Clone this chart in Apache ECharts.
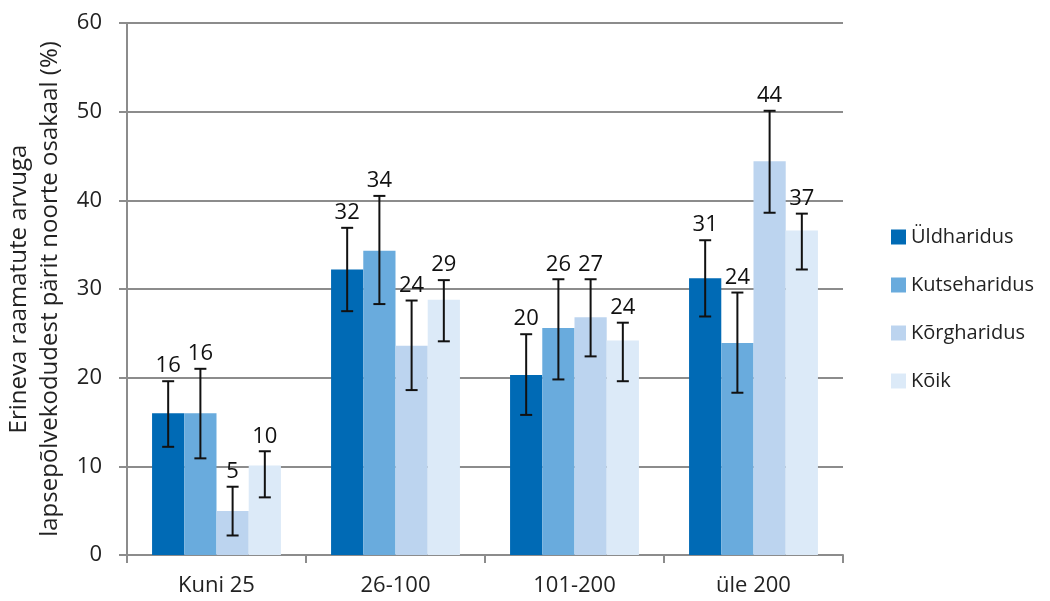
<!DOCTYPE html>
<html lang="et">
<head>
    <meta charset="utf-8">
    <title>Raamatute arv lapsepõlvekodus</title>
    <script src="https://cdn.jsdelivr.net/npm/echarts@6/dist/echarts.min.js"></script>
</head>
<body style="margin:0;background:#fff;">
    <div id="main" style="width:1050px;height:601px;"></div>
    <script type="text/javascript">
        // andmed
        var categories = ['Kuni 25', '26-100', '101-200', 'üle 200'];
        var seriesNames = ['Üldharidus', 'Kutseharidus', 'Kõrgharidus', 'Kõik'];
        var colors = ['#006ab5', '#69abdd', '#bcd4ef', '#dceaf8'];
        var yTicks = [0, 10, 20, 30, 40, 50, 60];

        var yldValues   = [16.0, 32.2, 20.3, 31.2];
        var kutseValues = [16.0, 34.3, 25.6, 23.9];
        var korgValues  = [4.95, 23.6, 26.8, 44.4];
        var koikValues  = [10.1, 28.8, 24.2, 36.6];

        // usaldusvahemikud [alumine, ülemine]
        var yldErr   = [[12.2, 19.6], [27.5, 36.9], [15.8, 24.9], [26.9, 35.5]];
        var kutseErr = [[10.9, 21.0], [28.3, 40.5], [19.8, 31.1], [18.3, 29.6]];
        var korgErr  = [[2.2, 7.7], [18.6, 28.7], [22.4, 31.1], [38.6, 50.1]];
        var koikErr  = [[6.5, 11.7], [24.1, 31.0], [19.6, 26.2], [32.2, 38.5]];

        var allValues = [yldValues, kutseValues, korgValues, koikValues];
        var allErr = [yldErr, kutseErr, korgErr, koikErr];

        var catGap = 0.28;
        var fontFam = '"Open Sans", sans-serif';

        var myChart = echarts.init(document.getElementById('main'));

        var series = [];
        allValues.forEach(function (vals, s) {
            series.push({
                name: seriesNames[s],
                type: 'bar',
                data: vals,
                barGap: '0%',
                barCategoryGap: (catGap * 100) + '%',
                itemStyle: { color: colors[s] },
                z: 2
            });
        });

        // vearibad + sildid
        allErr.forEach(function (errs, s) {
            var data = errs.map(function (e, i) {
                return [i, e[0], e[1], Math.round(allValues[s][i])];
            });
            series.push({
                name: 'err' + s,
                type: 'custom',
                z: 5,
                data: data,
                encode: { x: 0, y: [1, 2] },
                renderItem: function (params, api) {
                    var i = api.value(0);
                    var lo = api.coord([i, api.value(1)]);
                    var hi = api.coord([i, api.value(2)]);
                    var cw = api.size([1, 0])[0];
                    var bw = cw * (1 - catGap) / 4;
                    var x = lo[0] - cw * (1 - catGap) / 2 + bw * (s + 0.5);
                    var hw = 6;
                    var st = { stroke: '#111', lineWidth: 2 };
                    return {
                        type: 'group',
                        children: [
                            { type: 'line', shape: { x1: x, y1: hi[1], x2: x, y2: lo[1] }, style: st },
                            { type: 'line', shape: { x1: x - hw, y1: hi[1], x2: x + hw, y2: hi[1] }, style: st },
                            { type: 'line', shape: { x1: x - hw, y1: lo[1], x2: x + hw, y2: lo[1] }, style: st },
                            {
                                type: 'text',
                                style: {
                                    x: x, y: hi[1] - 4,
                                    text: String(api.value(3)),
                                    fill: '#111',
                                    font: '22px ' + fontFam,
                                    textAlign: 'center',
                                    textVerticalAlign: 'bottom'
                                }
                            }
                        ]
                    };
                }
            });
        });

        var option = {
            animation: false,
            grid: { left: 127, top: 23, right: 207, bottom: 46, containLabel: false, outerBoundsMode: 'none' },
            legend: {
                data: seriesNames,
                orient: 'vertical',
                left: 886,
                top: 222,
                icon: 'rect',
                itemWidth: 15,
                itemHeight: 15,
                itemGap: 28,
                textStyle: { fontSize: 20, fontFamily: fontFam, color: '#222', lineHeight: 20 }
            },
            xAxis: {
                type: 'category',
                data: categories,
                axisLine: { lineStyle: { color: '#8c8c8c', width: 2 } },
                axisTick: { show: true, length: 8, lineStyle: { color: '#8c8c8c', width: 2 } },
                axisLabel: { fontSize: 22, fontFamily: fontFam, color: '#222', margin: 20 }
            },
            yAxis: {
                type: 'value',
                min: yTicks[0],
                max: yTicks[yTicks.length - 1],
                interval: 10,
                name: 'Erineva raamatute arvuga\nlapsepõlvekodudest pärit noorte osakaal (%)',
                nameLocation: 'middle',
                nameRotate: 90,
                nameGap: 60,
                nameTextStyle: { fontSize: 24, fontFamily: fontFam, color: '#222', lineHeight: 31 },
                axisLine: { show: true, lineStyle: { color: '#8c8c8c', width: 2 } },
                axisTick: { show: true, length: 8, lineStyle: { color: '#8c8c8c', width: 2 } },
                axisLabel: { fontSize: 22, fontFamily: fontFam, color: '#222', margin: 25 },
                splitLine: { lineStyle: { color: '#8c8c8c', width: 2 } }
            },
            series: series
        };

        myChart.setOption(option);
    </script>
</body>
</html>
